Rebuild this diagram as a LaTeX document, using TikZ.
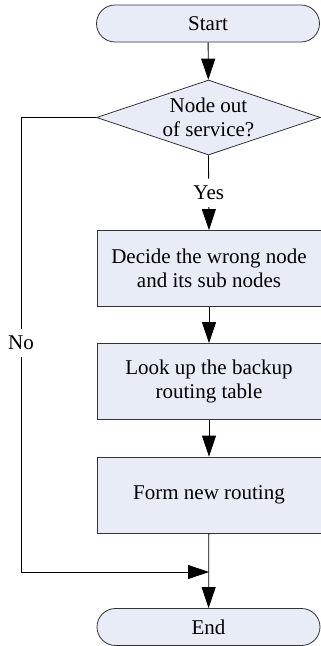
\documentclass[tikz,border=0pt]{standalone}
\usepackage{fontspec}
\setmainfont{Liberation Serif}
\usetikzlibrary{arrows.meta, shapes.geometric, shapes.misc}
\definecolor{boxfill}{RGB}{232,236,247}

\begin{document}
\begin{tikzpicture}[x=1pt, y=-1pt, line width=0.8pt,
    >={Triangle[length=21pt, width=14pt]},
    every node/.style={font=\fontsize{21}{24}\selectfont},
    terminal/.style={draw=black!80, fill=boxfill, rounded rectangle, minimum width=223pt, minimum height=37pt, inner sep=0pt},
    process/.style={draw=black!80, fill=boxfill, rectangle, align=center, minimum width=224pt, minimum height=76pt, inner sep=0pt},
    decision/.style={draw=black!80, fill=boxfill, diamond, aspect=3, minimum width=224pt, minimum height=75pt, inner sep=0pt},
    tag/.style={fill=white, inner xsep=2pt, inner ysep=7pt}]
    \useasboundingbox (0, 0) rectangle (321, 646);
            \node[terminal] (0) at (208, 23.5) {Start};
            \node[decision, label={[align=center]center:Node out\\of service?}] (1) at (208.5, 117.5) {};
            \node[process] (2) at (209, 268.5) {Decide the wrong node\\and its sub nodes};
            \node[process] (3) at (209, 381.5) {Look up the backup\\routing table};
            \node[process] (4) at (209, 495) {Form new routing};
            \node[terminal] (5) at (208.5, 627) {End};
            \coordinate (6) at (21, 572);
            \coordinate (7) at (209, 572);
            \draw[->] (0) -- (1);
            \draw[->] (1.south) -- (2.north) node[tag, pos=0.5] {Yes};
            \draw[->] (2) -- (3);
            \draw[->] (3) -- (4);
            \draw[->] (4) -- (5);
            \draw (1.west) -| (6) node[tag, pos=0.748] {No};
            \draw[->] (6) -- (7);
        \end{tikzpicture}
\end{document}
